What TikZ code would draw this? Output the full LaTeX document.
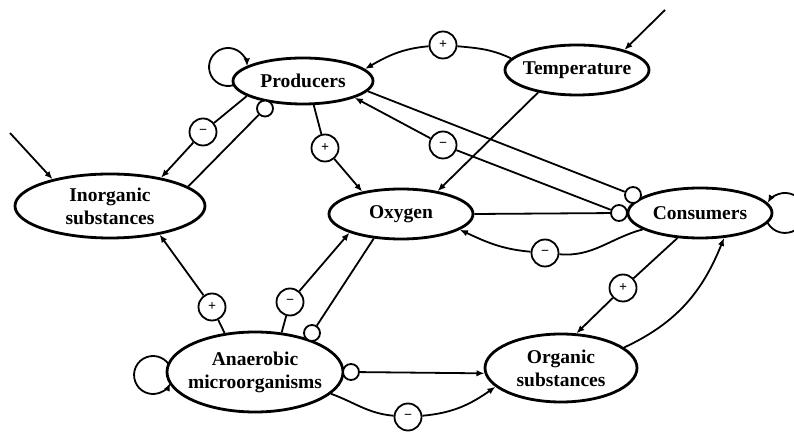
\documentclass[tikz,border=0pt]{standalone}
\usepackage{fontspec}
\setmainfont{Liberation Serif}
\usetikzlibrary{arrows.meta,shapes.geometric}
\pgfdeclarelayer{bg}
\pgfsetlayers{bg,main}
\begin{document}
\begin{tikzpicture}[x=1pt,y=1pt,
  ell/.style={ellipse, draw, line width=2.8pt, fill=white, inner sep=0pt},
  lbl/.style={font=\fontsize{19.5}{23}\selectfont\bfseries, align=center, inner sep=0pt},
  ln/.style={line width=1.8pt},
  arr/.style={ln, -{Latex[length=8pt,width=6.5pt]}},
  sgn/.style={circle, draw, line width=1.8pt, fill=white, minimum size=27pt, inner sep=0pt, font=\fontsize{14}{14}\selectfont\bfseries},
  oc/.style={circle, draw, line width=1.8pt, fill=white, minimum size=16pt, inner sep=0pt}]
\useasboundingbox (0,0) rectangle (794,433);

% main nodes
\node[ell, minimum width=140pt, minimum height=46pt] (P) at (303,352) {};
\node[lbl] (Pt) at (P) {Producers};
\node[ell, minimum width=144pt, minimum height=50pt] (T) at (577,363) {};
\node[lbl] (Tt) at (T) {Temperature};
\node[ell, minimum width=190pt, minimum height=64pt] (I) at (110,227) {};
\node[lbl] (It) at (I) {Inorganic\\substances};
\node[ell, minimum width=144pt, minimum height=50pt] (O) at (401,219) {};
\node[lbl] (Ot) at (O) {Oxygen};
\node[ell, minimum width=144pt, minimum height=50pt] (C) at (700,220) {};
\node[lbl] (Ct) at (C) {Consumers};
\node[ell, minimum width=176pt, minimum height=80pt] (A) at (255,61) {};
\node[lbl] (At) at (A) {Anaerobic\\microorganisms};
\node[ell, minimum width=152pt, minimum height=68pt] (G) at (561,65) {};
\node[lbl] (Gt) at (G) {Organic\\substances};

% sign nodes
\node[sgn] (s1) at (443,388) {+};
\node[sgn] (s2) at (325,285) {+};
\node[sgn] (s3) at (203,301) {−};
\node[sgn] (s4) at (443,288) {−};
\node[sgn] (s5) at (545,180) {−};
\node[sgn] (s6) at (623,145) {+};
\node[sgn] (s7) at (212,126) {+};
\node[sgn] (s8) at (290,131) {−};
\node[sgn] (s9) at (408,16) {−};

% small open circles
\node[oc] (c1) at (265,324.5) {};
\node[oc] (c2) at (633,238) {};
\node[oc] (c3) at (619,220) {};
\node[oc] (c4) at (312,100) {};
\node[oc] (c5) at (351,61) {};

\coordinate (tin) at (665,423);
\coordinate (iin) at (10,300);

\begin{pgfonlayer}{bg}
% self loops
\draw[arr] ([shift={(-60.4,1.8)}]P.center) arc[start angle=320, end angle=2, radius=19];
\draw[arr] ([shift={(66.2,-6.8)}]C.center) arc[start angle=200, end angle=510, radius=20];
\draw[arr] ([shift={(-84.1,3.5)}]A.center) arc[start angle=20, end angle=335, radius=19];
% external inputs
\draw[arr] (tin) -- (T.23);
\draw[arr] (iin) -- (I.155);
% Temperature -> Producers (+)
\draw[ln] (T.170) to[out=155, in=-5] (s1);
\draw[arr] (s1) to[out=185, in=30] (P.11);
% Temperature -> Oxygen
\draw[arr] (T.210) -- (O.32);
% Producers -> Oxygen (+)
\draw[ln] (P.294) -- (s2);
\draw[arr] (s2) -- (O.150);
% Producers -> Inorganic (-)
\draw[ln] (P.195) -- (s3);
\draw[arr] (s3) -- (I.29);
% Inorganic -- Producers (uptake)
\draw[ln] (I.14) -- (c1);
% Consumers -> Producers (-)
\draw[ln] (c3) -- (s4);
\draw[arr] (s4) -- (P.342);
% Producers -- Consumers (uptake)
\draw[ln] (P.351) -- (c2);
% Oxygen -- Consumers (uptake)
\draw[ln] (O.east) -- (c3);
% Consumers -> Oxygen (-)
\draw[ln] (C.196) to[out=195, in=-5] (s5);
\draw[arr] (s5) to[out=175, in=-25] (O.345);
% Consumers -> Organic (+)
\draw[ln] (C.228) -- (s6);
\draw[arr] (s6) -- (G.66);
% Organic -> Consumers
\draw[arr] (G.18) to[out=25, in=-112] (C.314);
% Anaerobic -> Inorganic (+)
\draw[ln] (A.128) -- (s7);
\draw[arr] (s7) -- (I.330);
% Anaerobic -> Oxygen (-)
\draw[ln] (A.56) -- (s8);
\draw[arr] (s8) -- (O.200);
% Oxygen -- Anaerobic (uptake)
\draw[ln] (O.222) -- (c4);
% Anaerobic -- Organic (uptake)
\draw[arr] (c5) -- (G.184);
% Anaerobic -> Organic (-)
\draw[ln] (A.344) to[out=-20, in=175] (s9);
\draw[arr] (s9) to[out=5, in=215] (G.196);
\end{pgfonlayer}
\end{tikzpicture}
\end{document}
